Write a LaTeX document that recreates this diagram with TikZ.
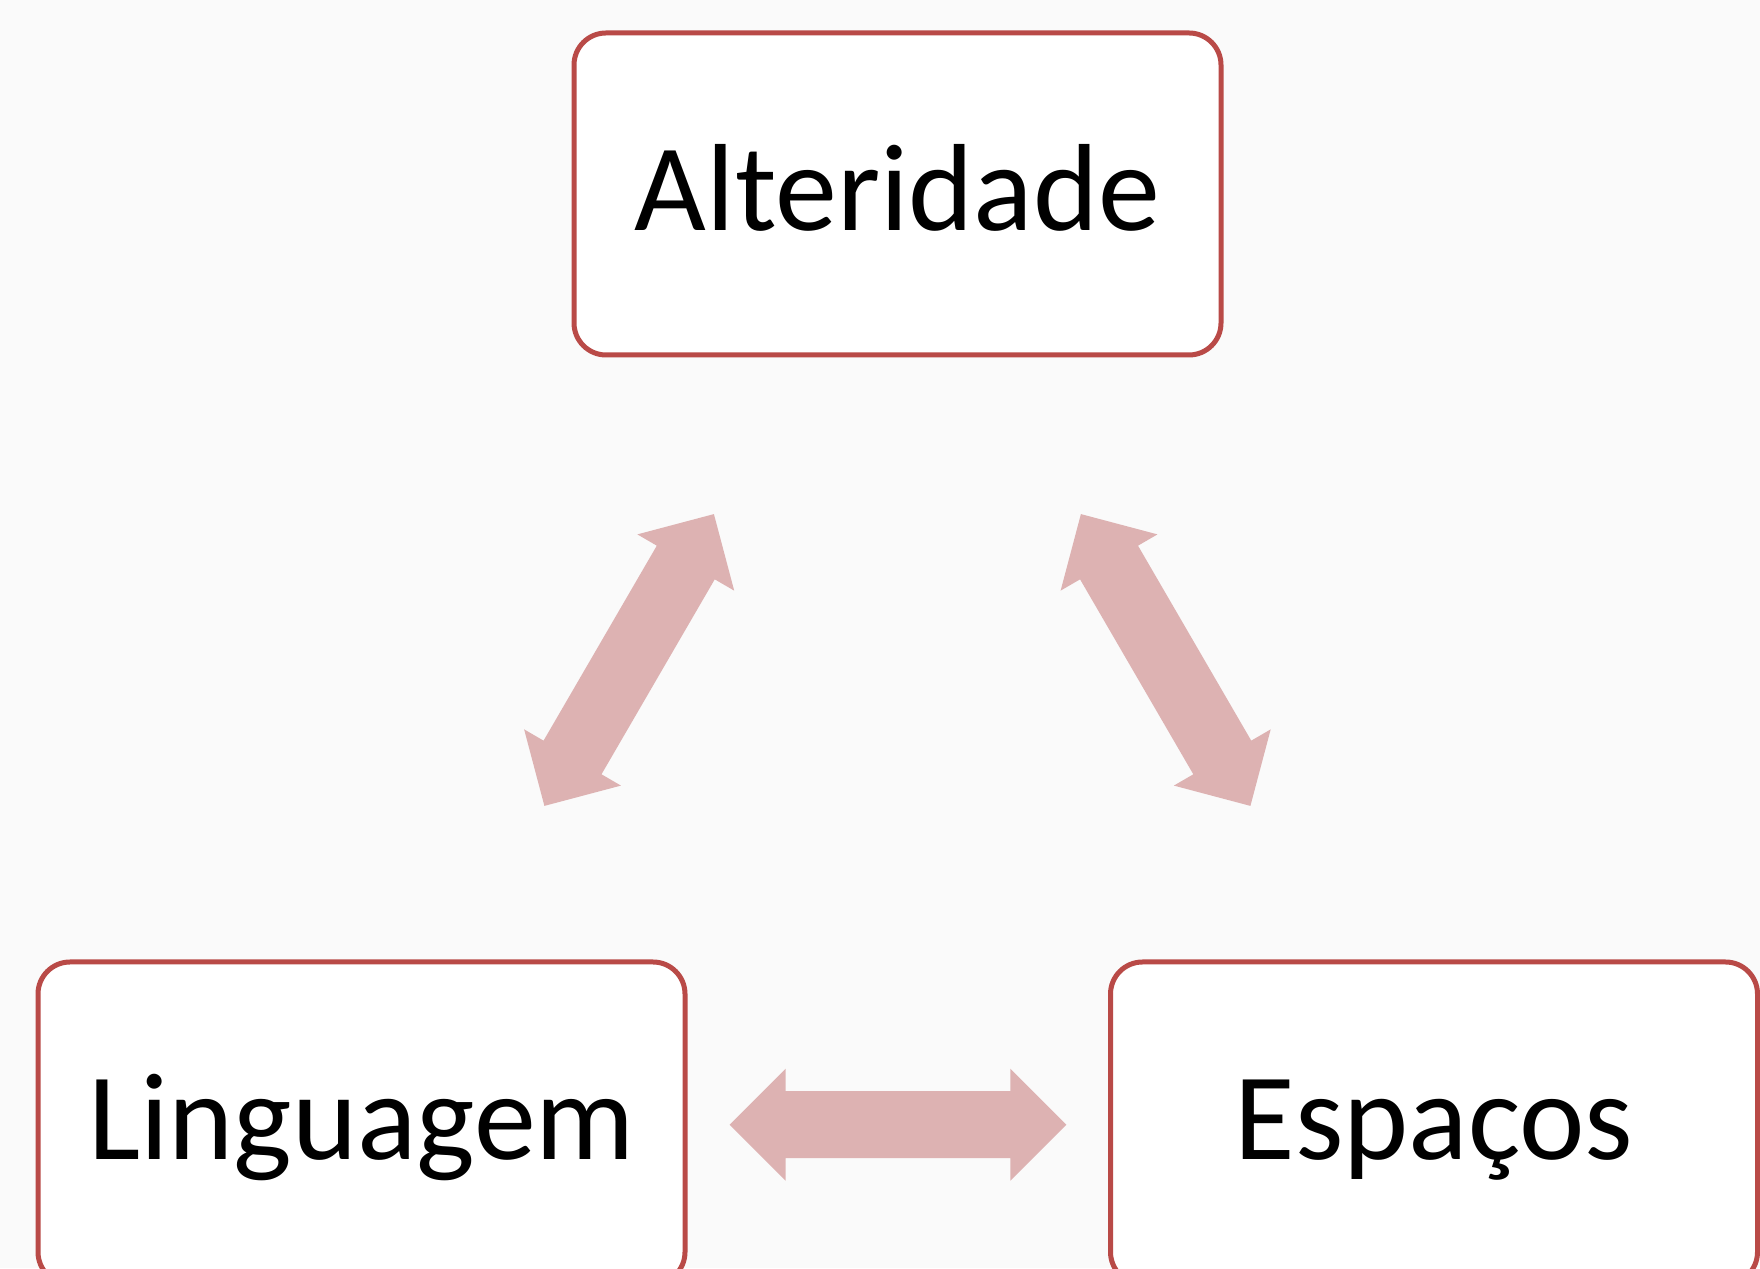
\documentclass[tikz,border=0pt]{standalone}
\usepackage{fontspec}
\setmainfont{Carlito}
\usetikzlibrary{calc}
\definecolor{bgcol}{RGB}{250,250,250}
\definecolor{boxline}{RGB}{185,74,71}
\definecolor{arrowcol}{RGB}{221,178,178}
\tikzset{
  conceptbox/.style={draw=boxline, line width=5pt, fill=white, rounded corners=32pt,
    minimum width=647pt, minimum height=322pt, inner sep=0pt,
    text height=73pt, text depth=0pt,
    font=\fontsize{124}{148}\selectfont},
  arrowfill/.style={fill=arrowcol}
}
\newcommand\blockarrow[3]{%
  \path ($(#1)!56pt!(#2)$) coordinate (#3p) ($(#2)!56pt!(#1)$) coordinate (#3q);
  \fill[arrowfill] (#1) -- ($(#3p)!56pt!90:(#2)$) -- ($(#3p)!33.5pt!90:(#2)$)
    -- ($(#3q)!33.5pt!-90:(#1)$) -- ($(#3q)!56pt!-90:(#1)$) -- (#2)
    -- ($(#3q)!56pt!90:(#1)$) -- ($(#3q)!33.5pt!90:(#1)$)
    -- ($(#3p)!33.5pt!-90:(#2)$) -- ($(#3p)!56pt!-90:(#2)$) -- cycle;}
\begin{document}
\begin{tikzpicture}[x=1pt,y=1pt]
\useasboundingbox (0,0) rectangle (1760,1268);
\clip (0,0) rectangle (1760,1268);
\fill[bgcol] (0,0) rectangle (1760,1268);
\node[conceptbox] (alt) at (897.5,1074) {Alteridade};
\node[conceptbox] (ling) at (361.5,145) {Linguagem};
\node[conceptbox] (esp) at (1434,145) {Espaços};
\coordinate (la) at (544.4,462.1);
\coordinate (lb) at (713.9,753.9);
\coordinate (ra) at (1080.9,753.9);
\coordinate (rb) at (1250.4,462.1);
\coordinate (ha) at (729.6,143.3);
\coordinate (hb) at (1066.3,143.3);
\blockarrow{la}{lb}{L}
\blockarrow{ra}{rb}{R}
\blockarrow{ha}{hb}{H}
\end{tikzpicture}
\end{document}
